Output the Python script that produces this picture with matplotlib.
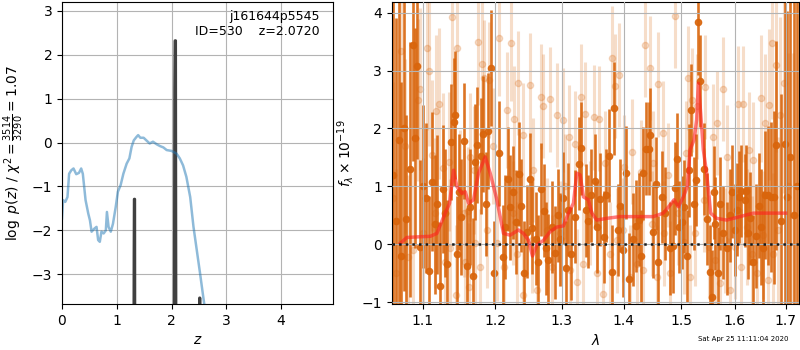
import numpy as np
import matplotlib
matplotlib.use('Agg')
import matplotlib.pyplot as plt
from matplotlib.ticker import FixedLocator, NullLocator, FixedFormatter

# redshift fit, coarse grid
z_coarse = [0.0, 0.02, 0.06, 0.10, 0.13, 0.17, 0.21, 0.26, 0.31, 0.35, 0.38, 0.43, 0.48,
            0.51, 0.54, 0.59, 0.63, 0.66, 0.69, 0.72, 0.76, 0.80, 0.82, 0.85, 0.89, 0.93,
            0.98, 1.02, 1.07, 1.12, 1.18, 1.23, 1.27, 1.31, 1.36, 1.39, 1.43, 1.49, 1.54,
            1.60, 1.66, 1.73, 1.79, 1.85, 1.91, 2.00, 2.09, 2.15, 2.21, 2.27, 2.34, 2.40,
            2.46, 2.52, 2.57, 2.60]
logp_coarse = [-1.73, -1.31, -1.35, -1.24, -0.71, -0.63, -0.59, -0.72, -0.69, -0.59, -0.71,
               -1.31, -1.62, -1.77, -2.03, -1.96, -1.92, -2.22, -2.26, -2.03, -2.07, -2.00,
               -1.58, -1.92, -2.03, -1.85, -1.47, -1.12, -0.97, -0.71, -0.48, -0.36, -0.10,
               0.05, 0.13, 0.17, 0.11, 0.11, 0.05, -0.02, 0.02, -0.04, -0.08, -0.11, -0.17,
               -0.19, -0.25, -0.36, -0.52, -0.78, -1.24, -1.92, -2.45, -2.98, -3.44, -3.71]

# fine grid peaks
z_fine = [1.300, 1.316, 1.320, 1.326, 1.334, 2.040, 2.058, 2.064, 2.072, 2.086,
          2.500, 2.512, 2.516, 2.526]
logp_fine = [-12, -2.6, -1.29, -1.29, -12, -12, 1.2, 2.32, 2.32, -12,
             -12, -3.54, -3.54, -12]

# spectrum, first grism
wave_a = [1.0615, 1.0650, 1.0690, 1.0725, 1.0755, 1.0787, 1.0830, 1.0869, 1.0904, 1.0930,
          1.0970, 1.1005, 1.1040, 1.1079, 1.1119, 1.1159, 1.1186, 1.1227, 1.1267, 1.1294,
          1.1330, 1.1375, 1.1416, 1.1430, 1.1457, 1.1490, 1.1522, 1.1567, 1.1609, 1.1637,
          1.1679, 1.1717, 1.1749, 1.1792, 1.1830, 1.1870, 1.1905, 1.1943, 1.1982, 1.2059,
          1.2107, 1.2150, 1.2194, 1.2219, 1.2265, 1.2311, 1.2350, 1.2385, 1.2430, 1.2475,
          1.2515, 1.2550, 1.2600, 1.2640, 1.2676, 1.2727, 1.2761, 1.2792, 1.2845, 1.2895,
          1.2935, 1.2972, 1.3020, 1.3060, 1.3100, 1.3140, 1.3207, 1.3271, 1.3308, 1.3377,
          1.3420, 1.3458, 1.3520, 1.3560, 1.3605, 1.3670, 1.3712, 1.3762, 1.3806, 1.3845,
          1.3901, 1.3945, 1.3990, 1.4040, 1.4085, 1.4153, 1.4214, 1.4255, 1.4290, 1.4329,
          1.4385, 1.4427, 1.4454, 1.4502, 1.4559, 1.4588, 1.4658, 1.4717, 1.4795, 1.4853,
          1.4895, 1.4925, 1.4960, 1.5015, 1.5057, 1.5100, 1.5136, 1.5183, 1.5230, 1.5274,
          1.5305, 1.5347, 1.5420, 1.5476, 1.5524, 1.5560, 1.5600, 1.5630, 1.5680, 1.5720,
          1.5780, 1.5853, 1.5900, 1.5941, 1.5992, 1.6040, 1.6069, 1.6119, 1.6186, 1.6216,
          1.6250, 1.6294, 1.6350, 1.6412, 1.6460, 1.6500, 1.6544, 1.6578, 1.6644, 1.6711,
          1.6764, 1.6811, 1.6900, 1.6980, 1.7033, 1.7100, 1.7170, 1.7230]
flux_a = [1.2, 0.4, 1.8, -0.2, 2.0, 0.44, 1.3, 3.44, 1.84, 3.07,
          -0.04, 1.0, 0.80, -0.46, 1.08, 0.35, 0.69, -0.71, 0.96, 0.54,
          -0.33, 1.76, 2.11, 2.23, -0.16, 0.9, 0.47, 1.78, -0.38, 0.65,
          -0.55, 1.42, 1.72, 1.53, 1.9, 0.7, 1.95, 3.05, -0.5, 1.57,
          -0.22, 0.3, 1.13, 0.64, 0.9, 0.39, 1.22, 0.67, -0.50, 0.22,
          1.13, 0.29, 0.1, -0.3, 0.95, 0.58, -0.07, -0.27, 0.3, -0.14,
          0.5, 0.09, 0.8, -0.4, 0.6, -0.16, 0.48, 1.39, 1.66, 0.59,
          0.4, 0.85, 1.1, 0.3, 0.78, 0.13, 0.85, 1.53, -0.47, 2.35,
          0.25, 0.67, -0.1, 1.24, -0.60, 0.09, 0.32, 0.43, -0.2, 1.23,
          1.65, 1.65, 1.89, 0.22, 1.05, -0.31, 0.82, 0.54, -0.07, -0.03,
          0.97, 1.47, 0.3, 0.38, 0.65, -0.2, 1.28, 2.32, 0.7, 1.11,
          3.83, 2.82, 1.3, 0.44, -0.47, -0.90, 0.9, 0.36, -0.5, 0.7,
          0.2, -0.07, 0.5, 0.91, 0.25, 0.6, 0.82, 0.92, 0.76, 0.92,
          0.2, 0.45, -0.3, 0.14, 0.67, 0.3, -0.07, 0.85, 0.85, 0.82,
          0.81, 1.71, 0.4, 1.74, 0.82, 1.5, 0.5, 1.0]
err_a = [4.0, 3.5, 3.2, 3.0, 2.8, 1.8, 2.2, 2.0, 1.9, 1.6,
         1.5, 1.4, 1.3, 1.3, 1.2, 1.2, 1.2, 1.1, 1.1, 1.1,
         1.1, 1.0, 1.1, 1.1, 1.0, 1.0, 1.0, 1.0, 1.0, 1.0,
         1.0, 1.0, 1.0, 1.0, 1.0, 0.9, 1.0, 1.0, 0.9, 0.9,
         0.9, 0.9, 0.9, 0.9, 0.8, 0.9, 0.9, 0.8, 0.9, 0.8,
         0.8, 0.8, 0.8, 0.8, 0.8, 0.8, 0.8, 0.8, 0.8, 0.8,
         0.8, 0.8, 0.8, 0.8, 0.8, 0.8, 0.8, 0.8, 0.8, 0.8,
         0.8, 0.8, 0.8, 0.8, 0.8, 0.8, 0.8, 0.8, 0.8, 0.8,
         0.8, 0.8, 0.8, 0.8, 0.8, 0.8, 0.8, 0.8, 0.8, 0.8,
         0.8, 0.8, 0.8, 0.8, 0.8, 0.8, 0.8, 0.8, 0.8, 0.8,
         0.8, 0.8, 0.8, 0.8, 0.8, 0.8, 0.8, 0.8, 0.8, 0.8,
         0.9, 0.8, 0.8, 0.8, 0.8, 0.8, 0.8, 0.8, 0.8, 0.8,
         0.8, 0.8, 0.8, 0.8, 0.8, 0.8, 0.8, 0.8, 0.8, 0.8,
         0.8, 0.8, 0.8, 0.9, 0.9, 1.0, 1.0, 1.1, 1.2, 1.3,
         1.5, 1.8, 2.2, 2.8, 3.2, 3.8, 4.3, 5.0]

# spectrum, second grism
wave_b = [1.0620, 1.0660, 1.0719, 1.0766, 1.0815, 1.0874, 1.0935, 1.0961, 1.1004, 1.1057,
          1.1079, 1.1123, 1.1168, 1.1181, 1.1217, 1.1279, 1.1300, 1.1361, 1.1366, 1.1393,
          1.1446, 1.1462, 1.1499, 1.1554, 1.1580, 1.1614, 1.1636, 1.1646, 1.1702, 1.1715,
          1.1754, 1.1786, 1.1810, 1.1843, 1.1880, 1.1919, 1.1976, 1.2025, 1.2063, 1.2122,
          1.2170, 1.2228, 1.2258, 1.2282, 1.2317, 1.2341, 1.2405, 1.2415, 1.2515, 1.2540,
          1.2565, 1.2615, 1.2676, 1.2716, 1.2767, 1.2818, 1.2844, 1.2921, 1.2973, 1.3014,
          1.3051, 1.3104, 1.3129, 1.3209, 1.3235, 1.3298, 1.3341, 1.3368, 1.3449, 1.3513,
          1.3556, 1.3600, 1.3665, 1.3692, 1.3774, 1.3802, 1.3857, 1.3885, 1.3923, 1.3996,
          1.4007, 1.4108, 1.4136, 1.4221, 1.4290, 1.4335, 1.4364, 1.4451, 1.4480, 1.4509,
          1.4567, 1.4596, 1.4672, 1.4700, 1.4772, 1.4801, 1.4891, 1.4951, 1.5045, 1.5080,
          1.5130, 1.5160, 1.5203, 1.5250, 1.5282, 1.5411, 1.5436, 1.5503, 1.5591, 1.5620,
          1.5666, 1.5716, 1.5779, 1.5809, 1.5855, 1.5905, 1.6000, 1.6052, 1.6110, 1.6161,
          1.6226, 1.6278, 1.6324, 1.6356, 1.6422, 1.6501, 1.6554, 1.6587, 1.6655, 1.6673,
          1.6720, 1.6755, 1.6809, 1.6856, 1.6887, 1.6969, 1.7050, 1.7150]
flux_b = [0.8, -0.5, 3.33, 1.69, -0.21, -0.10, 2.49, 2.68, 0.19, 3.38,
          3.00, 1.54, 0.54, 2.31, 2.43, 1.31, -0.30, 1.43, -0.07, 3.93,
          -0.87, 3.38, 0.88, 0.54, -0.30, 0.58, -0.73, 1.51, 1.28, 0.02,
          3.50, -0.39, 3.11, 2.87, 0.25, 2.84, 1.69, 0.02, 3.56, -0.39,
          2.32, 3.48, 0.54, 2.17, -0.16, 2.78, 1.89, -0.87, 2.75, 0.07,
          1.28, -0.79, 2.55, 2.39, 0.25, 2.50, -0.39, 2.23, 0.19, 2.15,
          1.00, 1.85, -0.44, 1.74, -0.64, 2.55, -0.33, 2.25, 0.54, 2.19,
          -0.50, 2.17, -0.85, 1.40, -0.16, 3.21, 2.73, 0.07, 2.92, 0.25,
          1.34, -0.56, 1.60, -0.33, 1.25, -0.44, 3.44, 3.04, 0.36, 1.40,
          -0.56, 2.76, 1.92, 0.19, 1.20, -0.50, 3.94, 0.54, 0.05, 1.57,
          2.87, -0.56, 2.49, 0.19, 2.38, 0.77, 2.72, -0.04, 1.86, -0.27,
          2.10, -0.67, 2.68, 0.07, 1.51, -0.79, -0.04, 2.43, -0.39, 2.42,
          0.30, 1.63, -0.16, 1.46, -0.50, 2.52, 0.16, 2.09, -0.62, 2.41,
          3.47, -0.16, 3.09, 0.25, 2.23, 2.78, 1.0, 0.5]
err_b = [2.0, 1.8, 1.6, 1.5, 1.4, 1.4, 1.4, 1.4, 1.3, 1.4,
         1.3, 1.3, 1.3, 1.3, 1.3, 1.3, 1.2, 1.2, 1.2, 1.2,
         1.2, 1.2, 1.1, 1.1, 1.1, 1.1, 1.1, 1.1, 1.1, 1.1,
         1.1, 1.0, 1.1, 1.0, 1.0, 1.0, 1.0, 1.0, 1.0, 1.0,
         1.0, 1.0, 0.9, 0.9, 0.9, 0.9, 0.9, 0.9, 0.9, 0.9,
         0.9, 0.9, 0.9, 0.9, 0.9, 0.9, 0.9, 0.9, 0.9, 0.9,
         0.9, 0.9, 0.9, 0.9, 0.9, 0.9, 0.9, 0.9, 0.9, 0.9,
         0.9, 0.9, 0.9, 0.9, 0.9, 0.9, 0.9, 0.9, 0.9, 0.9,
         0.9, 0.9, 0.9, 0.9, 0.9, 0.9, 0.9, 0.9, 0.9, 0.9,
         0.9, 0.9, 0.9, 0.9, 0.9, 0.9, 0.9, 0.9, 0.9, 0.9,
         0.9, 0.9, 0.9, 0.9, 0.9, 0.9, 0.9, 0.9, 0.9, 0.9,
         0.9, 0.9, 0.9, 0.9, 0.9, 0.9, 0.9, 1.0, 1.0, 1.0,
         1.0, 1.0, 1.0, 1.0, 1.1, 1.1, 1.1, 1.2, 1.2, 1.3,
         1.3, 1.4, 1.5, 1.6, 1.7, 1.9, 2.3, 2.8]

# best-fit model
wave_model = [1.0710, 1.0795, 1.0926, 1.1102, 1.1190, 1.1303, 1.1362, 1.1416, 1.1462, 1.1531,
              1.1577, 1.1624, 1.1693, 1.1764, 1.1858, 1.1929, 1.2025, 1.2121, 1.2218, 1.2341,
              1.2415, 1.2490, 1.2550, 1.2615, 1.2716, 1.2818, 1.2921, 1.3025, 1.3103, 1.3182,
              1.3235, 1.3288, 1.3341, 1.3421, 1.3475, 1.3556, 1.3719, 1.3940, 1.4221, 1.4508,
              1.4683, 1.4801, 1.4872, 1.4949, 1.5039, 1.5111, 1.5160, 1.5232, 1.5281, 1.5312,
              1.5355, 1.5404, 1.5465, 1.5540, 1.5652, 1.5840, 1.6095, 1.6354, 1.6618, 1.7000]
flux_model = [0.02, 0.12, 0.13, 0.14, 0.19, 0.54, 0.71, 1.28, 1.00, 0.88,
              0.91, 0.71, 0.77, 1.23, 1.51, 1.23, 0.77, 0.19, 0.16, 0.25,
              0.19, 0.07, -0.20, -0.01, 0.07, 0.22, 0.30, 0.32, 0.54, 0.71,
              1.23, 1.20, 0.82, 0.77, 0.54, 0.42, 0.45, 0.48, 0.48, 0.48,
              0.54, 0.68, 0.77, 0.65, 0.82, 1.00, 1.63, 1.80, 2.15, 2.78,
              2.26, 1.63, 1.23, 0.54, 0.45, 0.42, 0.48, 0.54, 0.54, 0.54]

wave_ticks = [1.1, 1.2, 1.3, 1.4, 1.5, 1.6, 1.7]
fig = plt.figure(figsize=(8, 3.5), dpi=100)

# left panel: p(z)
ax = fig.add_axes([0.0775, 0.131, 0.339, 0.863])
ax.plot(z_fine, logp_fine, color='0.25', linewidth=2.2)
ax.plot(z_coarse, logp_coarse, color='tab:blue', alpha=0.5, linewidth=1.8)
ax.set_xlim(0, 4.95)
ax.set_ylim(-3.68, 3.2)
ax.set_xticks([0, 1, 2, 3, 4])
ax.set_yticks([-3, -2, -1, 0, 1, 2, 3])
ax.grid(color='0.7')
ax.set_xlabel(r'$z$')
ax.set_ylabel(r'$\log\ p(z)$ / $\chi^2=\frac{3514}{3290}=1.07$')
ax.text(0.95, 0.975, 'j161644p5545\nID=530    z=2.0720', transform=ax.transAxes,
        ha='right', va='top', fontsize=9)

# right panel: spectrum
ax2 = fig.add_axes([0.4896, 0.131, 0.509, 0.863])
orange = '#d9650c'
ax2.errorbar(wave_b, flux_b, yerr=err_b, fmt='o', color=orange, alpha=0.22,
             markersize=4.5, elinewidth=2.2, capsize=0, zorder=1)
ax2.errorbar(wave_a, flux_a, yerr=err_a, fmt='o', color=orange, alpha=0.9,
             markersize=4.5, elinewidth=1.9, capsize=0, zorder=2)
ax2.plot(wave_model, flux_model, color='#ff2020', alpha=0.6, linewidth=2.5, zorder=4)
ax2.axhline(0, color='0.1', linestyle=':', linewidth=1.8, zorder=5)

ax2.set_xscale('log')
ax2.set_xlim(1.060, 1.7274)
ax2.set_ylim(-1.03, 4.18)
ax2.xaxis.set_major_locator(FixedLocator(wave_ticks))
ax2.xaxis.set_major_formatter(FixedFormatter([str(w) for w in wave_ticks]))
ax2.xaxis.set_minor_locator(NullLocator())
ax2.set_yticks([-1, 0, 1, 2, 3, 4])
ax2.set_axisbelow(False)
ax2.grid(color='0.7', zorder=3)
ax2.set_xlabel(r'$\lambda$')
ax2.set_ylabel(r'$f_\lambda\times10^{-19}$')

fig.text(0.985, 0.022, 'Sat Apr 25 11:11:04 2020', ha='right', va='bottom', fontsize=5)

fig.savefig('out.png', dpi=100)
